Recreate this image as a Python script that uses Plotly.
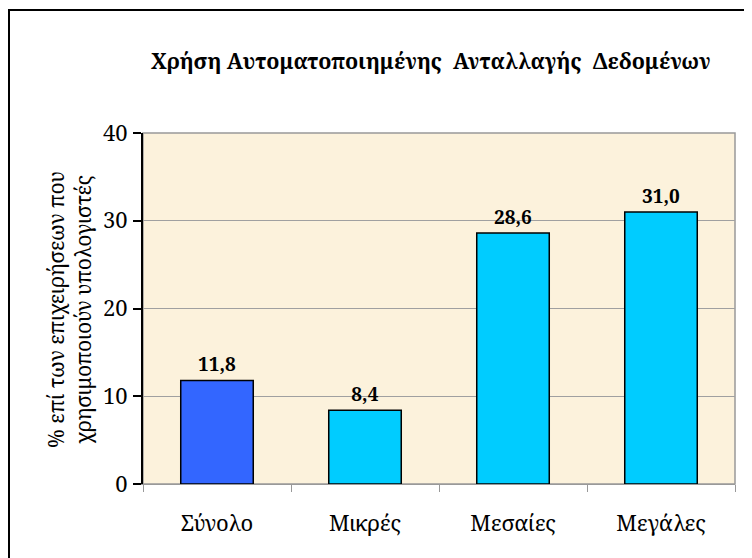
import plotly.graph_objects as go

categories = ["Σύνολο", "Μικρές", "Μεσαίες", "Μεγάλες"]
values = [11.8, 8.4, 28.6, 31.0]
bar_colors = ["#3366FF", "#00CCFF", "#00CCFF", "#00CCFF"]
y_ticks = [0, 10, 20, 30, 40]
title_text = "Χρήση Αυτοματοποιημένης\u00a0 Ανταλλαγής\u00a0 Δεδομένων"
y_title = "% επί των επιχειρήσεων που<br>χρησιμοποιούν υπολογιστές"

SERIF = "Noto Serif, DejaVu Serif"

OFF = 8  # page body margin
W, H = 752 - OFF, 558 - OFF
L, R, T, B = 143 - OFF, 17, 133 - OFF, 74
pw, ph = W - L - R, H - T - B

def px_x(x):
    return (x - OFF - L) / pw

def px_y(y):
    return (H - B - (y - OFF)) / ph

fig = go.Figure()
fig.add_trace(go.Bar(
    x=categories, y=values,
    marker=dict(color=bar_colors, line=dict(color="black", width=1.5)),
    width=0.49,
    text=[f"<b>{v:.1f}</b>".replace(".", ",") for v in values],
    textposition="outside",
    textfont=dict(family=SERIF, size=19, color="black"),
    cliponaxis=False,
))

fig.update_layout(
    width=W, height=H,
    margin=dict(l=L, r=R, t=T, b=B),
    paper_bgcolor="white",
    plot_bgcolor="#FCF2DC",
    showlegend=False,
    font=dict(family=SERIF, color="black"),
    xaxis=dict(
        type="category",
        tickson="boundaries",
        ticks="outside", ticklen=7, tickcolor="#999999", tickwidth=1,
        showline=True, linecolor="#999999", linewidth=1,
        showgrid=False,
        tickfont=dict(family=SERIF, size=22, color="black"),
        ticklabelstandoff=20,
    ),
    yaxis=dict(
        range=[0, 40],
        tickvals=y_ticks,
        ticks="outside", ticklen=8, tickcolor="black", tickwidth=2,
        showline=True, linecolor="black", linewidth=2,
        showgrid=True, gridcolor="#A0A0A0", gridwidth=1,
        zeroline=False,
        tickfont=dict(family=SERIF, size=22, color="black"),
        ticklabelstandoff=1,
    ),
    shapes=[
        dict(type="rect", xref="paper", yref="paper", x0=0, x1=1, y0=0, y1=1,
             line=dict(color="#999999", width=1.5), layer="below"),
        dict(type="rect", xref="paper", yref="paper",
             x0=px_x(9), x1=px_x(750), y0=px_y(570), y1=px_y(10),
             line=dict(color="black", width=2), fillcolor="rgba(0,0,0,0)"),
    ],
    annotations=[
        dict(text=f"<b>{title_text}</b>", xref="paper", yref="paper",
             x=px_x(430), y=px_y(60), xanchor="center", yanchor="middle",
             showarrow=False, font=dict(family=SERIF, size=21.5, color="black")),
        dict(text=y_title, xref="paper", yref="paper",
             x=px_x(69), y=px_y(310), xanchor="center", yanchor="middle",
             textangle=-90, showarrow=False,
             font=dict(family=SERIF, size=21, color="black")),
    ],
)

fig.write_html("out.html")
